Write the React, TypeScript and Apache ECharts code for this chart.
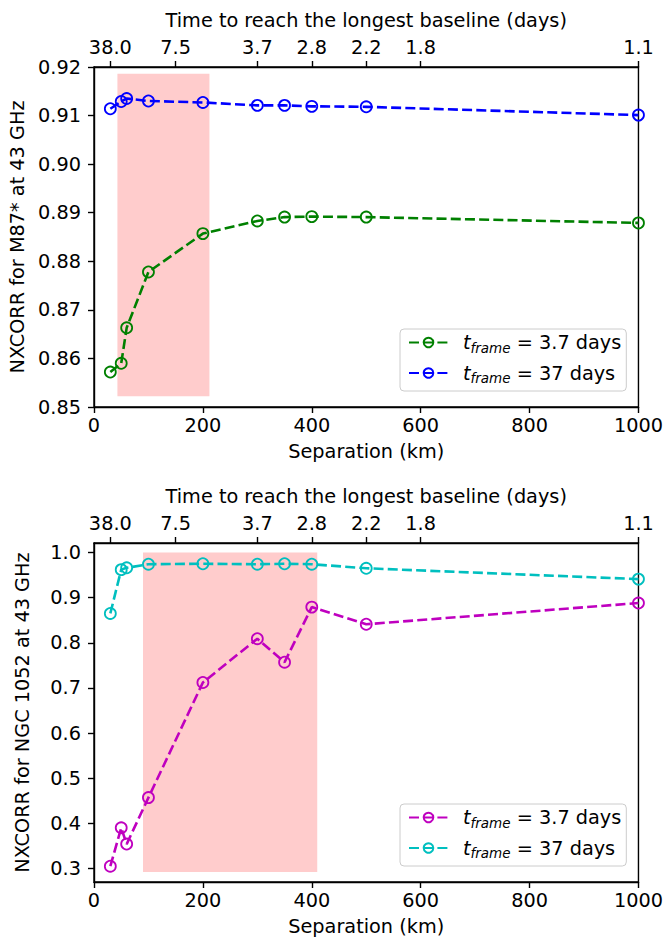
import React, { useEffect, useRef } from "react";
import * as echarts from "echarts";

// Separation (km)
const separation = [30, 50, 60, 100, 200, 300, 350, 400, 500, 1000];
// Top panel (M87*)
const m87Frame37d = [0.8572, 0.8590, 0.8663, 0.8778, 0.8857, 0.8883, 0.8891, 0.8892, 0.8891, 0.8879];
const m87Frame37 = [0.9114, 0.9129, 0.9135, 0.9130, 0.9127, 0.9121, 0.9121, 0.9119, 0.9118, 0.9101];
// Bottom panel (NGC 1052)
const ngcFrame37d = [0.305, 0.390, 0.354, 0.457, 0.712, 0.809, 0.757, 0.879, 0.841, 0.888];
const ngcFrame37 = [0.865, 0.962, 0.966, 0.974, 0.975, 0.974, 0.975, 0.974, 0.965, 0.941];
// Shaded regions [x0, x1, y0, y1]
const m87Shade = [43, 212, 0.8522, 0.9186];
const ngcShade = [90, 410, 0.292, 1.0];
// Top axis ticks (separation positions) and labels (days)
const topTickPos = [30, 150, 300, 400, 500, 600, 1000];
const topTickLabels = ["38.0", "7.5", "3.7", "2.8", "2.2", "1.8", "1.1"];
// Y ticks
const m87YTicks = [0.85, 0.86, 0.87, 0.88, 0.89, 0.9, 0.91, 0.92];
const ngcYTicks = [0.3, 0.4, 0.5, 0.6, 0.7, 0.8, 0.9, 1.0];

const FONT = "DejaVu Sans";
const FS = 19.3;

const legendLabels: Record<string, string> = {
  m87a: "3.7 days",
  m87b: "37 days",
  ngca: "3.7 days",
  ngcb: "37 days",
};

export default function App() {
  const ref = useRef<HTMLDivElement>(null);
  useEffect(() => {
    document.body.style.margin = "0";
    const chart = echarts.init(ref.current!, null, { renderer: "svg" });
    const grids = [
      { left: 94, top: 67, width: 546, height: 340 },
      { left: 94, top: 543, width: 546, height: 339 },
    ];
    const textBase = { fontFamily: FONT, fontSize: FS, color: "#000" };
    const axisLine = { show: true, lineStyle: { color: "#000", width: 1.4 } };
    const axisTick = { show: true, length: 6, lineStyle: { color: "#000", width: 1.4 } };
    const xAxes: any[] = [];
    const yAxes: any[] = [];
    [0, 1].forEach((g) => {
      xAxes.push({
        type: "value",
        gridIndex: g,
        position: "bottom",
        min: 0,
        max: 1000,
        interval: 200,
        name: "Separation (km)",
        nameLocation: "middle",
        nameGap: 35,
        nameTextStyle: textBase,
        axisLine,
        axisTick,
        axisLabel: { ...textBase, margin: 9, formatter: (v: number) => String(v) },
        splitLine: { show: false },
      });
      xAxes.push({
        type: "value",
        gridIndex: g,
        position: "top",
        min: 0,
        max: 1000,
        name: "Time to reach the longest baseline (days)",
        nameLocation: "middle",
        nameGap: 37,
        nameTextStyle: textBase,
        axisLine,
        axisTick: { ...axisTick, customValues: topTickPos },
        axisLabel: {
          ...textBase,
          margin: 10,
          customValues: topTickPos,
          formatter: (v: number) => {
            const i = topTickPos.indexOf(v);
            return i >= 0 ? topTickLabels[i] : "";
          },
        },
        splitLine: { show: false },
      });
    });
    yAxes.push({
      type: "value",
      gridIndex: 0,
      min: 0.85,
      max: 0.92,
      name: "NXCORR for M87* at 43 GHz",
      nameLocation: "middle",
      nameGap: 62,
      nameTextStyle: textBase,
      axisLine,
      axisTick: { ...axisTick, customValues: m87YTicks },
      axisLabel: { ...textBase, margin: 13, customValues: m87YTicks, formatter: (v: number) => v.toFixed(2) },
      splitLine: { show: false },
    });
    yAxes.push({
      type: "value",
      gridIndex: 1,
      min: 0.27,
      max: 1.021,
      name: "NXCORR for NGC 1052 at 43 GHz",
      nameLocation: "middle",
      nameGap: 62,
      nameTextStyle: textBase,
      axisLine,
      axisTick: { ...axisTick, customValues: ngcYTicks },
      axisLabel: { ...textBase, margin: 13, customValues: ngcYTicks, formatter: (v: number) => v.toFixed(1) },
      splitLine: { show: false },
    });

    const mkSeries = (name: string, vals: number[], color: string, xi: number, yi: number, shade?: number[]) => {
      const s: any = {
        type: "line",
        name,
        xAxisIndex: xi,
        yAxisIndex: yi,
        data: separation.map((x, i) => [x, vals[i]]),
        symbol: "circle",
        symbolSize: 11,
        showSymbol: true,
        lineStyle: { color, width: 2.6, type: [10, 4.2] },
        itemStyle: { color: "rgba(0,0,0,0)", borderColor: color, borderWidth: 1.8 },
        z: 3,
      };
      if (shade) {
        s.markArea = {
          silent: true,
          itemStyle: { color: "#ffcccc" },
          data: [[{ xAxis: shade[0], yAxis: shade[2] }, { xAxis: shade[1], yAxis: shade[3] }]],
        };
      }
      return s;
    };

    const legendCommon = {
      orient: "vertical",
      left: 400,
      padding: [4, 5, 6, 8],
      itemGap: 9,
      itemWidth: 39,
      itemHeight: 12,
      borderColor: "#cccccc",
      borderWidth: 1,
      borderRadius: 4,
      backgroundColor: "rgba(255,255,255,0.8)",
      formatter: (name: string) => `{t|t}{s|frame}{n| = ${legendLabels[name]}}`,
      textStyle: {
        padding: [0, 0, 0, 10],
        rich: {
          t: { fontFamily: FONT, fontSize: FS, fontStyle: "italic", color: "#000" },
          s: { fontFamily: FONT, fontSize: 13.5, fontStyle: "italic", color: "#000", padding: [10, 0, 0, 0] },
          n: { fontFamily: FONT, fontSize: FS, color: "#000" },
        },
      },
    };

    chart.setOption({
      animation: false,
      grid: grids.map((g) => ({ ...g, show: true, borderColor: "#000", borderWidth: 1.4, backgroundColor: "transparent" })),
      xAxis: xAxes,
      yAxis: yAxes,
      legend: [
        { ...legendCommon, top: 329, data: ["m87a", "m87b"] },
        { ...legendCommon, top: 804, data: ["ngca", "ngcb"] },
      ],
      series: [
        mkSeries("m87a", m87Frame37d, "#008000", 0, 0, m87Shade),
        mkSeries("m87b", m87Frame37, "#0000ff", 0, 0),
        mkSeries("ngca", ngcFrame37d, "#bf00bf", 2, 1, ngcShade),
        mkSeries("ngcb", ngcFrame37, "#00bfbf", 2, 1),
      ],
    });
    return () => chart.dispose();
  }, []);
  return <div ref={ref} style={{ width: 666, height: 939 }} />;
}
